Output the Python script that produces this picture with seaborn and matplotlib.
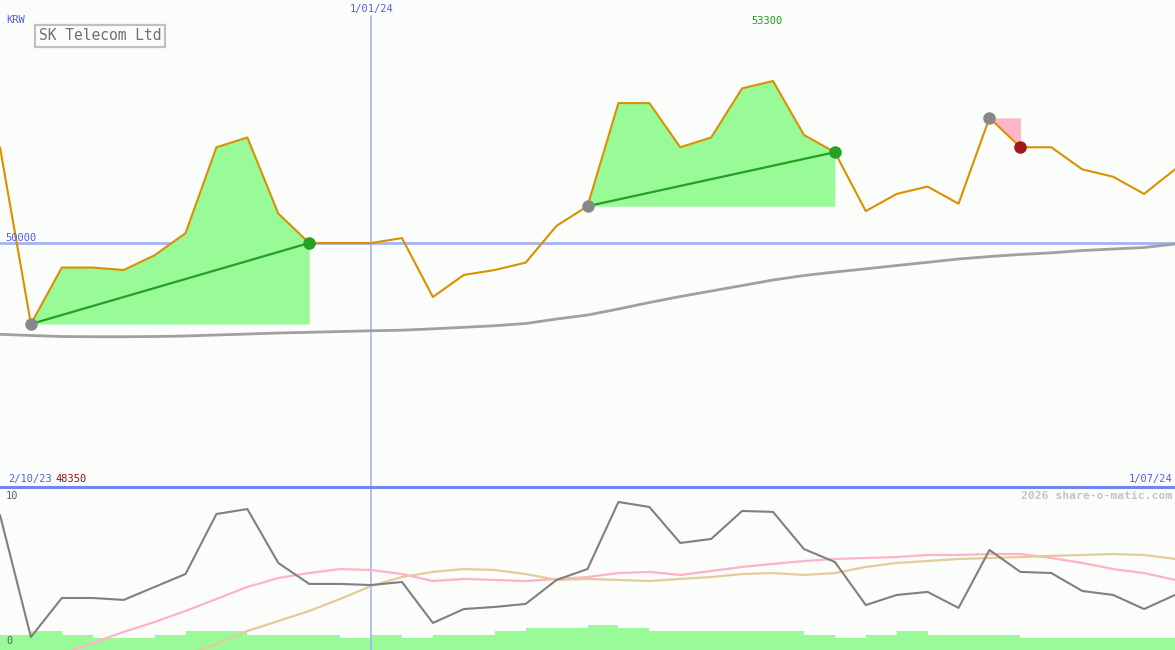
import numpy as np
import pandas as pd
import matplotlib
matplotlib.use("Agg")
import matplotlib.pyplot as plt
import seaborn as sns

# ---------------- data ----------------
price = [51950, 48350, 49500, 49500, 49450, 49750, 50200, 51950, 52150, 50600,
         50000, 50000, 50000, 50100, 48900, 49350, 49450, 49600, 50350, 50750,
         52850, 52850, 51950, 52150, 53150, 53300, 52200, 51850, 50650, 51000,
         51150, 50800, 52550, 51950, 51950, 51500, 51350, 51000, 51500]
ma_long = [48140, 48116, 48095, 48091, 48091, 48095, 48106, 48126, 48146, 48167,
           48181, 48197, 48212, 48224, 48252, 48283, 48315, 48360, 48452, 48533,
           48656, 48788, 48910, 49022, 49134, 49246, 49338, 49409, 49474, 49542,
           49607, 49674, 49725, 49766, 49800, 49847, 49878, 49908, 49980]
osc = [8.44, 0.81, 3.25, 3.25, 3.13, 3.94, 4.75, 8.5, 8.81, 5.44,
       4.13, 4.13, 4.06, 4.25, 1.69, 2.56, 2.69, 2.88, 4.38, 5.06,
       9.25, 8.94, 6.69, 6.94, 8.69, 8.63, 6.31, 5.5, 2.81, 3.44,
       3.63, 2.63, 6.25, 4.88, 4.81, 3.69, 3.44, 2.56, 3.44]
osc_fast = [np.nan, np.nan, -0.25, 0.44, 1.13, 1.75, 2.44, 3.19, 3.94, 4.5,
            4.81, 5.06, 5.0, 4.75, 4.31, 4.44, 4.38, 4.31, 4.44, 4.56,
            4.81, 4.88, 4.69, 4.94, 5.19, 5.38, 5.56, 5.69, 5.75, 5.81,
            5.94, 5.94, 6.0, 6.0, 5.75, 5.44, 5.06, 4.81, 4.38]
osc_slow = [np.nan, np.nan, np.nan, np.nan, np.nan, np.nan, -0.3, 0.38, 1.19, 1.81,
            2.44, 3.19, 4.0, 4.56, 4.88, 5.06, 5.0, 4.75, 4.38, 4.44,
            4.38, 4.31, 4.44, 4.56, 4.75, 4.81, 4.69, 4.81, 5.19, 5.44,
            5.56, 5.69, 5.75, 5.81, 5.88, 5.94, 6.0, 5.94, 5.69]
volume = [15, 19, 15, 12, 12, 15, 19, 19, 15, 15,
          15, 12, 15, 12, 15, 15, 19, 22, 22, 25,
          22, 19, 19, 19, 19, 19, 15, 12, 15, 19,
          15, 15, 15, 12, 12, 12, 12, 12]
date_labels = ["2/10/23", "1/01/24", "1/07/24"]
year_index = 12
title = "SK Telecom Ltd"
currency = "KRW"
ref_level = 50000
up_runs = [(1, 10), (19, 27)]
down_runs = [(32, 33)]

# ---------------- style ----------------
W, H = 1175, 650
BG = "#FAFDF9"
BLUE_TXT = "#4F5FF0"
sns.set_style("white")
plt.rcParams["font.family"] = ["DejaVu Sans Mono", "DejaVu Sans"]

fig = plt.figure(figsize=(W / 100, H / 100), dpi=100, facecolor=BG)
top_h = 487
ax1 = fig.add_axes([0, 1 - top_h / H, 1, top_h / H])
ax2 = fig.add_axes([0, 0, 1, (H - top_h) / H])
for ax in (ax1, ax2):
    ax.set_facecolor(BG)
    for s in ax.spines.values():
        s.set_visible(False)
    ax.set_xticks([])
    ax.set_yticks([])
    ax.set_xlim(0, len(price) - 1)

df = pd.DataFrame({"i": np.arange(len(price)), "price": price, "ma": ma_long,
                   "osc": osc, "fast": osc_fast, "slow": osc_slow})

# upper panel
ax1.set_ylim(45030, 54950)
ax1.axhline(ref_level, color="#A4B2F4", lw=2, zorder=1)
ax1.axvline(year_index, ymax=(top_h - 16) / top_h, color="#A4B2F4", lw=1.2, zorder=1)

x = df["i"].values
p = np.array(price, dtype=float)
for a, b in up_runs:
    ax1.fill_between(x[a:b + 1], p[a:b + 1], p[a], color="#98FB98", lw=0, zorder=2)
for a, b in down_runs:
    ax1.fill_between(x[a:b + 1], p[a:b + 1], p[a], color="#FFB6C8", lw=0, zorder=2)

sns.lineplot(data=df, x="i", y="ma", ax=ax1, color="#A0A0A0", lw=2, zorder=3)
sns.lineplot(data=df, x="i", y="price", ax=ax1, color="#DA9000", lw=1.5, zorder=4)
for a, b in up_runs:
    ax1.plot([a, b], [p[a], p[b]], color="#259F25", lw=1.6, zorder=5)
    ax1.plot([a], [p[a]], "o", color="#888888", ms=8, zorder=6)
    ax1.plot([b], [p[b]], "o", color="#259F25", ms=8, zorder=6)
for a, b in down_runs:
    ax1.plot([a], [p[a]], "o", color="#888888", ms=8, zorder=6)
    ax1.plot([b], [p[b]], "o", color="#A31818", ms=8, zorder=6)
ax1.set_xlabel("")
ax1.set_ylabel("")
ax1.set_xlim(0, len(price) - 1)

# lower panel
ax2.set_ylim(0, (H - top_h) / 16)
ax2.bar(np.arange(len(volume)), np.array(volume) / 16, width=1.0, align="edge",
        color="#98FB98", lw=0, zorder=1)
ax2.axvline(year_index, color="#A4B2F4", lw=1.2, zorder=2)
sns.lineplot(data=df, x="i", y="fast", ax=ax2, color="#FFB3C8", lw=1.6, zorder=3)
sns.lineplot(data=df, x="i", y="slow", ax=ax2, color="#E3CB9C", lw=1.6, zorder=3)
sns.lineplot(data=df, x="i", y="osc", ax=ax2, color="#808080", lw=1.5, zorder=4)
ax2.set_xlabel("")
ax2.set_ylabel("")
ax2.set_xlim(0, len(price) - 1)

# separator
fig.add_artist(plt.Line2D([0, 1], [1 - top_h / H, 1 - top_h / H], color="#7585F0", lw=2.2))


def ftext(px, py, s, **kw):
    return fig.text(px / W, 1 - py / H, s, **kw)


fs = 7.5
ftext(6, 20, currency, color=BLUE_TXT, fontsize=fs, va="center")
ftext(372, 9, date_labels[1], color=BLUE_TXT, fontsize=fs, va="center", ha="center")
ftext(767, 21, f"{max(price)}", color="#1E9A1E", fontsize=fs, va="center", ha="center")
ftext(5, 238, f"{ref_level}", color=BLUE_TXT, fontsize=fs, va="center")
ftext(8, 479, date_labels[0], color=BLUE_TXT, fontsize=fs, va="center")
ftext(55, 479, f"{min(price)}", color="#A01010", fontsize=fs, va="center")
ftext(1172, 479, date_labels[2], color=BLUE_TXT, fontsize=fs, va="center", ha="right")
ftext(6, 496, "10", color="#606060", fontsize=fs, va="center")
ftext(6, 641, "0", color="#606060", fontsize=fs, va="center")
ftext(1172, 496, "2026 share-o-matic.com", color="#C4C4C4", fontsize=8.2,
      fontweight="bold", va="center", ha="right")
ftext(100, 36, title, color="#707070", fontsize=10.5, va="center", ha="center",
      bbox=dict(boxstyle="square,pad=0.25", fc=BG, ec="#C0C0C0", lw=1.6))

fig.savefig("out.png", dpi=100, facecolor=BG)
